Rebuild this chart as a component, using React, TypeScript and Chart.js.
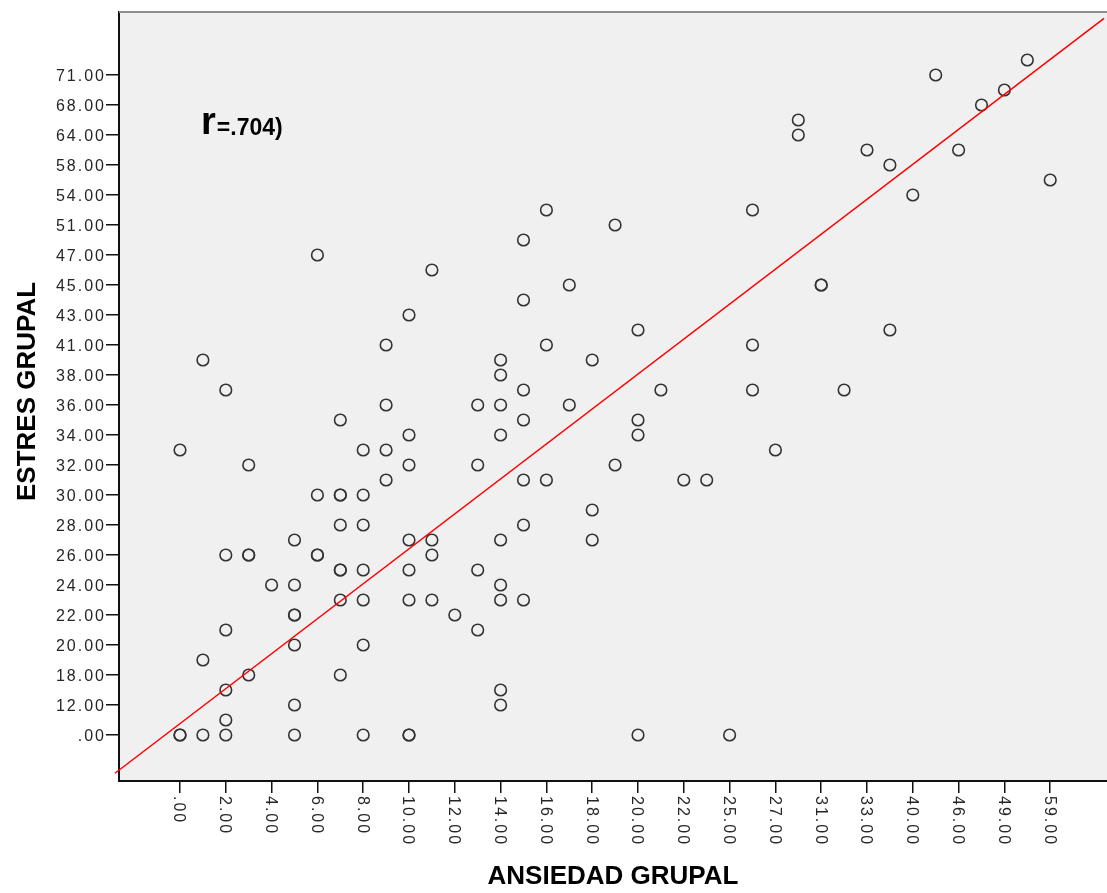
import React, { useEffect, useRef } from "react";
import { Chart, registerables } from "chart.js";

Chart.register(...registerables);

// Category tick labels (SPSS categorical axes: a label on every other category position)
const xTickLabels = [".00", "2.00", "4.00", "6.00", "8.00", "10.00", "12.00", "14.00", "16.00", "18.00", "20.00", "22.00", "25.00", "27.00", "31.00", "33.00", "40.00", "46.00", "49.00", "59.00"];
const yTickLabels = [".00", "12.00", "18.00", "20.00", "22.00", "24.00", "26.00", "28.00", "30.00", "32.00", "34.00", "36.00", "38.00", "41.00", "43.00", "45.00", "47.00", "51.00", "54.00", "58.00", "64.00", "68.00", "71.00"];

// Observations as category positions (ANSIEDAD GRUPAL on x, ESTRES GRUPAL on y)
const anxietyLow = [6, 11, 10, 9, 1, 2, 9, 7, 10, 0, 8, 9, 3, 10, 9, 6, 7, 7, 8, 7, 8, 5, 10, 11, 2, 3, 3, 6, 6, 11, 7, 7, 8, 10, 4, 5, 7, 8, 10, 11, 12, 5, 5, 2, 1, 3, 7, 5, 8, 2, 5, 2, 0, 0, 1, 2, 5, 8, 10, 10];
const stressLow = [32, 31, 28, 26, 25, 23, 22, 21, 20, 19, 19, 19, 18, 18, 17, 16, 16, 16, 16, 14, 14, 13, 13, 13, 12, 12, 12, 12, 12, 12, 11, 11, 11, 11, 10, 10, 9, 9, 9, 9, 8, 8, 8, 7, 5, 4, 4, 6, 6, 3, 2, 1, 0, 0, 0, 0, 0, 0, 0, 0];
const anxietyMid = [16, 25, 19, 15, 17, 15, 20, 16, 25, 18, 14, 14, 15, 21, 25, 13, 14, 17, 15, 20, 20, 14, 26, 13, 19, 15, 16, 22, 23, 18, 15, 14, 18, 13, 14, 14, 15, 13, 14, 14, 20, 24];
const stressMid = [35, 35, 34, 33, 30, 29, 27, 26, 26, 25, 25, 24, 23, 23, 23, 22, 22, 22, 21, 21, 20, 20, 19, 18, 18, 17, 17, 17, 17, 15, 14, 13, 13, 11, 10, 9, 9, 7, 3, 2, 0, 0];
const anxietyHigh = [37, 33, 36, 35, 27, 27, 30, 34, 31, 38, 32, 28, 28, 31, 29];
const stressHigh = [45, 44, 43, 42, 41, 40, 39, 39, 38, 37, 36, 30, 30, 27, 23];

// Fit line end points (category positions)
const fitX = [-2.84, 40.35];
const fitY = [-2.55, 47.78];

// Annotation
const annotationMain = "r";
const annotationRest = "=.704)";
const annotX = 0.92;
const annotY = 40.07;

const X_MIN = -2.664;
const X_MAX = 40.48;
const Y_MIN = -3.067;
const Y_MAX = 48.2;

const FONT = '"Liberation Sans", Arial, Helvetica, sans-serif';

const sceneryPlugin = {
  id: "scenery",
  beforeDraw(chart: any) {
    const { ctx, chartArea: a } = chart;
    ctx.save();
    ctx.fillStyle = "#f0f0f0";
    ctx.fillRect(a.left, a.top, a.right - a.left, a.bottom - a.top);
    ctx.restore();
  },
  afterDraw(chart: any) {
    const { ctx, chartArea: a, scales } = chart;
    ctx.save();
    // top frame line
    ctx.strokeStyle = "#8f8f8f";
    ctx.lineWidth = 2;
    ctx.beginPath();
    ctx.moveTo(a.left, a.top);
    ctx.lineTo(a.right, a.top);
    ctx.stroke();

    // y tick labels
    ctx.fillStyle = "#262626";
    ctx.font = `16px ${FONT}`;
    (ctx as any).letterSpacing = "2px";
    ctx.textAlign = "right";
    ctx.textBaseline = "alphabetic";
    yTickLabels.forEach((lab, i) => {
      const y = scales.y.getPixelForValue(i * 2);
      ctx.fillText(lab, a.left - 13, y + 5.7);
    });

    // x tick labels, rotated clockwise
    ctx.textAlign = "left";
    xTickLabels.forEach((lab, i) => {
      const x = scales.x.getPixelForValue(i * 2);
      ctx.save();
      ctx.translate(x - 5.7, a.bottom + 15);
      ctx.rotate(Math.PI / 2);
      ctx.fillText(lab, 0, 0);
      ctx.restore();
    });
    (ctx as any).letterSpacing = "0px";

    // axis titles
    ctx.fillStyle = "#000";
    ctx.font = `bold 26px ${FONT}`;
    ctx.textAlign = "center";
    ctx.fillText("ANSIEDAD GRUPAL", (a.left + a.right) / 2, 884);
    ctx.save();
    ctx.translate(35, (a.top + a.bottom) / 2 - 5);
    ctx.rotate(-Math.PI / 2);
    ctx.fillText("ESTRES GRUPAL", 0, 0);
    ctx.restore();

    // annotation
    const ax = scales.x.getPixelForValue(annotX);
    const ay = scales.y.getPixelForValue(annotY);
    ctx.textAlign = "left";
    ctx.font = `bold 38px ${FONT}`;
    ctx.fillText(annotationMain, ax, ay);
    const w = ctx.measureText(annotationMain).width;
    ctx.font = `bold 23px ${FONT}`;
    ctx.fillText(annotationRest, ax + w + 1, ay + 1);
    ctx.restore();
  },
};

export default function App() {
  const canvasRef = useRef<HTMLCanvasElement | null>(null);

  useEffect(() => {
    if (!canvasRef.current) return;
    const pts = (xs: number[], ys: number[]) => xs.map((x, i) => ({ x, y: ys[i] }));
    const pointStyle = {
      pointRadius: 5.8,
      pointBorderWidth: 1.6,
      pointBorderColor: "#333333",
      pointBackgroundColor: "rgba(0,0,0,0)",
      pointHoverRadius: 5.8,
    };
    const chart = new Chart(canvasRef.current, {
      type: "scatter",
      data: {
        datasets: [
          {
            type: "line",
            label: "fit",
            data: pts(fitX, fitY),
            borderColor: "#ff0000",
            borderWidth: 1.5,
            pointRadius: 0,
            fill: false,
            clip: false as any,
          } as any,
          { label: "low", data: pts(anxietyLow, stressLow), ...pointStyle },
          { label: "mid", data: pts(anxietyMid, stressMid), ...pointStyle },
          { label: "high", data: pts(anxietyHigh, stressHigh), ...pointStyle },
        ],
      },
      options: {
        animation: false,
        responsive: false,
        layout: { autoPadding: false, padding: { top: 12, left: 0, right: 0, bottom: 0 } },
        plugins: { legend: { display: false }, tooltip: { enabled: false } },
        events: [],
        scales: {
          x: {
            type: "linear",
            min: X_MIN,
            max: X_MAX,
            afterBuildTicks: (s: any) => {
              s.ticks = xTickLabels.map((_, i) => ({ value: i * 2 }));
            },
            afterFit: (s: any) => {
              s.height = 112;
              s.paddingLeft = 0;
              s.paddingRight = 0;
            },
            ticks: { display: false },
            grid: { drawOnChartArea: false, drawTicks: true, tickLength: 12, color: "#111", lineWidth: 1.5 },
            border: { display: true, color: "#111", width: 2 },
          },
          y: {
            type: "linear",
            min: Y_MIN,
            max: Y_MAX,
            afterBuildTicks: (s: any) => {
              s.ticks = yTickLabels.map((_, i) => ({ value: i * 2 }));
            },
            afterFit: (s: any) => {
              s.width = 119;
              s.paddingTop = 0;
              s.paddingBottom = 0;
            },
            ticks: { display: false },
            grid: { drawOnChartArea: false, drawTicks: true, tickLength: 13, color: "#111", lineWidth: 1.5 },
            border: { display: true, color: "#111", width: 2 },
          },
        },
      } as any,
      plugins: [sceneryPlugin],
    });
    return () => chart.destroy();
  }, []);

  return (
    <div style={{ position: "fixed", left: 0, top: 0, width: 1107, height: 893, background: "#fff" }}>
      <canvas ref={canvasRef} width={1107} height={893} style={{ display: "block" }} />
    </div>
  );
}
